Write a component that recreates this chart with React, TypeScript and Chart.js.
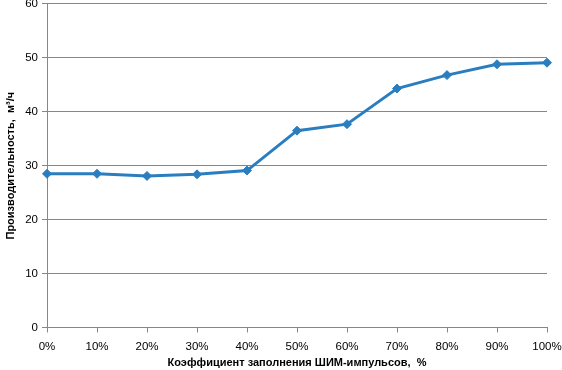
import React, { useEffect, useRef } from "react";
import { Chart, registerables } from "chart.js";

Chart.register(...registerables);

const categories = ["0%", "10%", "20%", "30%", "40%", "50%", "60%", "70%", "80%", "90%", "100%"];
const productivity = [28.5, 28.5, 28.1, 28.4, 29.1, 36.5, 37.7, 44.3, 46.8, 48.8, 49.1];
const yTicks = [0, 10, 20, 30, 40, 50, 60];
const xTitle = "Коэффициент заполнения ШИМ-импульсов,  %";
const yTitle = "Производительность,  м³/ч";

export default function App() {
  const ref = useRef<HTMLCanvasElement | null>(null);
  useEffect(() => {
    if (!ref.current) return;
    const font = "'Liberation Sans', Arial, sans-serif";
    const chart = new Chart(ref.current, {
      type: "line",
      data: {
        labels: categories,
        datasets: [
          {
            data: productivity,
            borderColor: "#2a7ec0",
            backgroundColor: "#2a7ec0",
            borderWidth: 3,
            pointStyle: "rectRot",
            pointRadius: 4.5,
            pointBorderWidth: 1,
            tension: 0,
          },
        ],
      },
      options: {
        animation: false,
        responsive: false,
        maintainAspectRatio: false,
        layout: { padding: { left: 0, right: 0, top: 0, bottom: 0 } },
        plugins: { legend: { display: false }, tooltip: { enabled: false } },
        scales: {
          x: {
            type: "category",
            offset: false,
            grid: { drawOnChartArea: false, drawTicks: true, tickLength: 5, color: "#878787" },
            border: { display: true, color: "#878787" },
            ticks: { color: "#000", font: { family: font, size: 11.5 }, padding: 7, maxRotation: 0, autoSkip: false },
            title: { display: true, text: xTitle, color: "#000", font: { family: font, size: 11, weight: "bold" }, padding: { top: 0, bottom: 0 } },
            afterFit: (s: any) => { s.height = 42.5; s.paddingLeft = 0; s.paddingRight = 15; },
          },
          y: {
            min: 0,
            max: 60,
            afterBuildTicks: (s: any) => { s.ticks = yTicks.map((v) => ({ value: v })); },
            grid: { color: "#878787", tickLength: 5 },
            border: { display: true, color: "#878787" },
            ticks: { color: "#000", font: { family: font, size: 11.5 }, padding: 4 },
            title: { display: true, text: yTitle, color: "#000", font: { family: font, size: 11, weight: "bold" }, padding: { top: 4, bottom: 0 } },
            afterFit: (s: any) => { s.width = 47; },
          },
        },
      },
    });
    return () => chart.destroy();
  }, []);
  return (
    <div style={{ position: "absolute", left: 0, top: -7, width: 562, height: 377, background: "#fff" }}>
      <canvas ref={ref} width={562} height={377} style={{ width: 562, height: 377 }} />
    </div>
  );
}
